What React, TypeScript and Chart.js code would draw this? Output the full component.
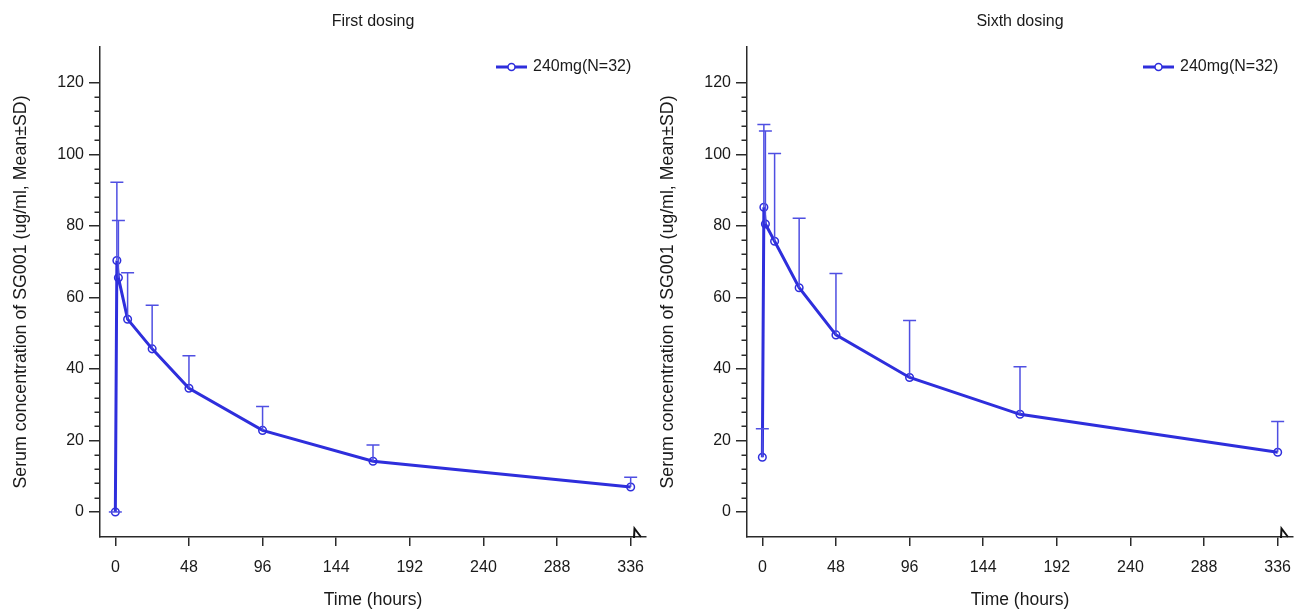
import React, { useEffect, useRef } from 'react';
import { Chart, registerables } from 'chart.js';

Chart.register(...registerables);

// ---- data ----
const times = [0, 1, 2, 8, 24, 48, 96, 168, 336];
const firstMean = [0, 70.3, 65.5, 53.9, 45.6, 34.6, 22.8, 14.2, 7.0];
const firstSD = [0, 21.9, 16.0, 13.0, 12.2, 9.1, 6.7, 4.5, 2.7];
const sixthMean = [15.3, 85.2, 80.5, 75.7, 62.7, 49.5, 37.6, 27.3, 16.7];
const sixthSD = [8.0, 23.1, 26.0, 24.5, 19.4, 17.2, 15.9, 13.3, 8.6];
const xTickValues = [0, 48, 96, 144, 192, 240, 288, 336];
const yTickValues = [0, 20, 40, 60, 80, 100, 120];
const yMinorValues = [4, 8, 12, 16, 24, 28, 32, 36, 44, 48, 52, 56, 64, 68, 72, 76, 84, 88, 92, 96, 104, 108, 112, 116];
const seriesLabel = '240mg(N=32)';
const titles = ['First dosing', 'Sixth dosing'];
const xTitle = 'Time (hours)';
const yTitle = 'Serum concentration of SG001 (ug/ml, Mean±SD)';

const FONT = "'Liberation Sans', Arial, sans-serif";
const LINE = '#2e2edc';
const ERR = '#4f4fe2';
const TXT = '#1a1a1a';
const AX = '#2a2a2a';

function makePlugin(means: number[], sds: number[]) {
  return {
    id: 'pkExtras',
    afterDatasetsDraw(chart: any) {
      const { ctx } = chart;
      const xs = chart.scales.x;
      const ys = chart.scales.y;
      ctx.save();
      // error bars (upper only)
      ctx.strokeStyle = ERR;
      ctx.lineWidth = 1.5;
      for (let i = 0; i < times.length; i++) {
        const x = xs.getPixelForValue(times[i]);
        const y0 = ys.getPixelForValue(means[i]);
        const y1 = ys.getPixelForValue(means[i] + sds[i]);
        ctx.beginPath();
        ctx.moveTo(x, y0);
        ctx.lineTo(x, y1);
        ctx.moveTo(x - 6.5, y1);
        ctx.lineTo(x + 6.5, y1);
        ctx.stroke();
      }
      ctx.restore();
    },
    afterDraw(chart: any) {
      const { ctx, chartArea } = chart;
      const ys = chart.scales.y;
      ctx.save();
      // minor y ticks
      ctx.strokeStyle = AX;
      ctx.lineWidth = 1.5;
      for (const v of yMinorValues) {
        const y = Math.round(ys.getPixelForValue(v)) + 0.25;
        ctx.beginPath();
        ctx.moveTo(chartArea.left - 5.5, y);
        ctx.lineTo(chartArea.left, y);
        ctx.stroke();
      }
      // axis break mark
      const bx = chartArea.right - 12;
      const by = chartArea.bottom;
      ctx.strokeStyle = '#111';
      ctx.lineWidth = 2;
      ctx.beginPath();
      ctx.moveTo(bx, by + 1);
      ctx.lineTo(bx + 0.5, by - 8.5);
      ctx.lineTo(bx + 7, by);
      ctx.stroke();
      // legend
      const lx = chartArea.right - 150;
      const ly = 67;
      ctx.strokeStyle = LINE;
      ctx.lineWidth = 3;
      ctx.beginPath();
      ctx.moveTo(lx, ly);
      ctx.lineTo(lx + 31, ly);
      ctx.stroke();
      ctx.lineWidth = 1.5;
      ctx.fillStyle = '#fff';
      ctx.beginPath();
      ctx.arc(lx + 15.5, ly, 3.5, 0, Math.PI * 2);
      ctx.fill();
      ctx.stroke();
      ctx.fillStyle = TXT;
      ctx.font = `16px ${FONT}`;
      ctx.textBaseline = 'middle';
      ctx.textAlign = 'left';
      ctx.fillText(seriesLabel, lx + 37, ly);
      ctx.restore();
    },
  };
}

function PKChart({ title, means, sds }: { title: string; means: number[]; sds: number[] }) {
  const ref = useRef<HTMLCanvasElement>(null);
  useEffect(() => {
    if (!ref.current) return;
    const chart = new Chart(ref.current, {
      type: 'line',
      data: {
        datasets: [
          {
            label: seriesLabel,
            data: times.map((t, i) => ({ x: t, y: means[i] })),
            borderColor: LINE,
            borderWidth: 3,
            pointRadius: 3.8,
            pointBorderWidth: 1.5,
            pointBorderColor: LINE,
            pointBackgroundColor: 'rgba(255,255,255,0)',
            tension: 0,
            fill: false,
            clip: false as any,
          },
        ],
      },
      options: {
        responsive: false,
        animation: false,
        events: [],
        layout: { autoPadding: false, padding: { left: 0, right: 1, top: 0, bottom: 0 } },
        plugins: {
          legend: { display: false },
          tooltip: { enabled: false },
          title: {
            display: true,
            fullSize: false,
            text: title,
            color: TXT,
            font: { family: FONT, size: 16, weight: 'normal' },
            padding: { top: 12, bottom: 15.8 },
          },
        },
        scales: {
          x: {
            type: 'linear',
            min: -10,
            max: 346,
            afterBuildTicks: (s: any) => {
              s.ticks = xTickValues.map((v) => ({ value: v }));
            },
            afterFit: (s: any) => {
              s.height = 74;
              s.paddingLeft = 0;
              s.paddingRight = 0;
            },
            grid: { drawOnChartArea: false, drawTicks: true, tickLength: 9, color: AX, lineWidth: 1.5 },
            border: { display: true, color: AX, width: 1.5 },
            ticks: {
              color: TXT,
              font: { family: FONT, size: 16 },
              padding: 12,
              maxRotation: 0,
              autoSkip: false,
            },
            title: {
              display: true,
              text: xTitle,
              color: TXT,
              font: { family: FONT, size: 17.5 },
              padding: { top: 0, bottom: 0 },
            },
          },
          y: {
            type: 'linear',
            min: -7,
            max: 130,
            afterBuildTicks: (s: any) => {
              s.ticks = yTickValues.map((v) => ({ value: v }));
            },
            afterFit: (s: any) => {
              s.width = 100;
              s.paddingTop = 0;
              s.paddingBottom = 0;
            },
            grid: { drawOnChartArea: false, drawTicks: true, tickLength: 11, color: AX, lineWidth: 1.5 },
            border: { display: true, color: AX, width: 1.5 },
            ticks: {
              color: TXT,
              font: { family: FONT, size: 16 },
              padding: 5,
              autoSkip: false,
            },
            title: {
              display: true,
              text: yTitle,
              color: TXT,
              font: { family: FONT, size: 17.8 },
              padding: { top: 10, bottom: 0 },
            },
          },
        },
      },
      plugins: [makePlugin(means, sds)],
    } as any);
    return () => chart.destroy();
  }, [title, means, sds]);
  return <canvas ref={ref} width={647} height={611} style={{ display: 'block', width: 647, height: 611 }} />;
}

export default function App() {
  return (
    <div style={{ position: 'fixed', left: 0, top: 0, width: 1294, height: 611, background: '#fff', display: 'flex' }}>
      <PKChart title={titles[0]} means={firstMean} sds={firstSD} />
      <PKChart title={titles[1]} means={sixthMean} sds={sixthSD} />
    </div>
  );
}
